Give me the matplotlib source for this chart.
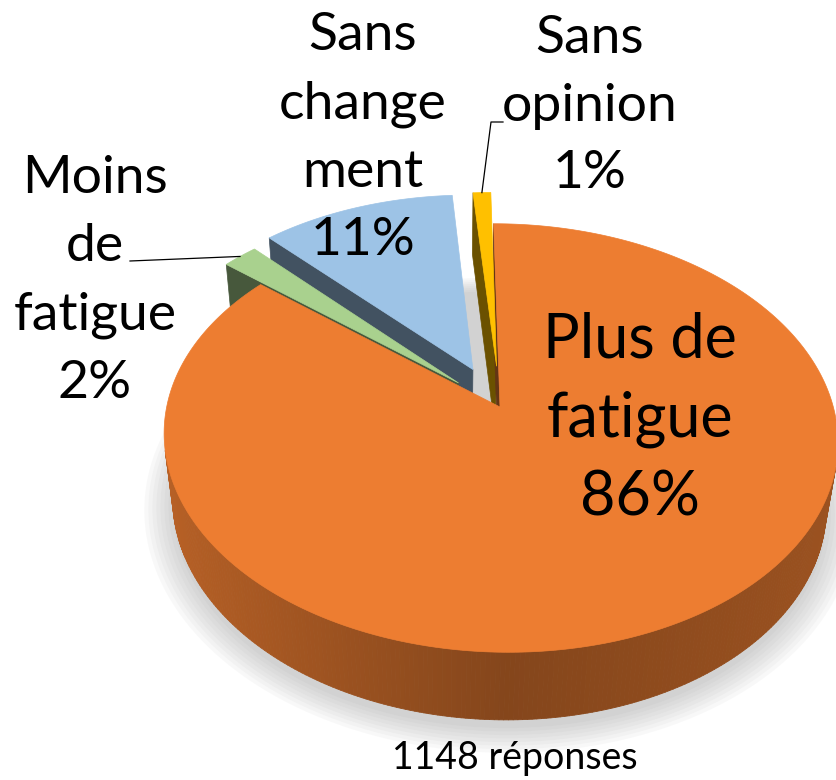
import numpy as np
import matplotlib.pyplot as plt
from matplotlib.patches import Polygon
from matplotlib.collections import PolyCollection
import matplotlib.colors as mcolors

# data (clockwise from 12 o'clock, as in the reference)
labels = ["Plus de\nfatigue", "Moins\nde\nfatigue", "Sans\nchange\nment", "Sans\nopinion"]
values = [86, 2, 11, 1]
colors = ["#ED7D31", "#A9D18E", "#9DC3E6", "#FFC000"]
explode = [0.0, 0.17, 0.2, 0.2]
n_answers = 1148

plt.rcParams['font.family'] = ['Lato', 'DejaVu Sans']

W, H = 836, 780

# simple perspective camera for the 3D pie
elev = np.radians(39)
s, c = np.sin(elev), np.cos(elev)
D = 5.37          # camera distance (pie radius = 1)
F = 1790          # focal length in pixels
XC = -0.15        # camera slightly to the left
CX, CY = 500, 407  # screen position of pie centre
DEPTH = 0.26      # pie thickness

cam = np.array([XC, -D * c, D * s])
sx0 = F * (0 - XC) / D


def proj(x, y, z):
    x, y, z = np.asarray(x, float), np.asarray(y, float), np.asarray(z, float)
    depth = (y + D * c) * c - (z - D * s) * s
    up = (y + D * c) * s + (z - D * s) * c
    px = CX + F * (x - XC) / depth - sx0
    py = CY - F * up / depth
    return np.column_stack([px, py])


def shade(col, f):
    r, g, b = mcolors.to_rgb(col)
    return (r * f, g * f, b * f)


fig = plt.figure(figsize=(W / 100, H / 100), dpi=100)
ax = fig.add_axes([0, 0, 1, 1])
ax.set_xlim(0, W)
ax.set_ylim(H, 0)
ax.axis('off')

vals = np.array(values, float)
frac = vals / vals.sum()
starts = 90 - 360 * np.concatenate([[0], np.cumsum(frac)[:-1]])
ends = starts - 360 * frac
mids = np.radians((starts + ends) / 2)

# soft shadow under the pie
tt = np.linspace(0, 2 * np.pi, 200)
for k in range(8):
    r = 1.0 + 0.012 * k
    pts = proj(r * np.cos(tt), r * np.sin(tt) - 0.02, -DEPTH - 0.01)
    ax.add_patch(Polygon(pts, closed=True, fc='#888888', ec='none', alpha=0.05, zorder=1))

radial, sides, tops = [], [], []
for i in range(len(vals)):
    ox, oy = explode[i] * np.cos(mids[i]), explode[i] * np.sin(mids[i])
    a0, a1 = np.radians(ends[i]), np.radians(starts[i])
    n = max(3, int(frac[i] * 500))
    th = np.linspace(a0, a1, n)

    # top face
    top = np.vstack([proj([ox], [oy], [0]), proj(ox + np.cos(th), oy + np.sin(th), np.zeros(n))])
    tops.append((top, colors[i]))

    # cut faces
    for a, sign in ((a1, 1), (a0, -1)):
        nrm = sign * np.array([-np.sin(a), np.cos(a), 0])
        if np.dot(nrm, cam - np.array([ox, oy, 0])) <= 0:
            continue
        ex, ey = ox + np.cos(a), oy + np.sin(a)
        quad = proj([ox, ex, ex, ox], [oy, ey, ey, oy], [0, 0, -DEPTH, -DEPTH])
        radial.append((oy + 0.5 * np.sin(a), quad, shade(colors[i], 0.42)))

    # curved outer wall
    for j in range(n - 1):
        tm = 0.5 * (th[j] + th[j + 1])
        px, py = ox + np.cos(tm), oy + np.sin(tm)
        if np.cos(tm) * (cam[0] - px) + np.sin(tm) * (cam[1] - py) <= 0:
            continue
        xs = ox + np.cos([th[j], th[j + 1], th[j + 1], th[j]])
        ys = oy + np.sin([th[j], th[j + 1], th[j + 1], th[j]])
        quad = proj(xs, ys, [0, 0, -DEPTH, -DEPTH])
        f = 0.56 + 0.22 * max(0, -np.cos(tm)) + 0.1 * max(0, np.cos(tm))
        sides.append((quad, shade(colors[i], f)))

radial.sort(key=lambda r: -r[0])
ax.add_collection(PolyCollection([q for _, q, _ in radial], facecolors=[col for _, _, col in radial],
                                 edgecolors=[col for _, _, col in radial], linewidths=0.5, zorder=2))
ax.add_collection(PolyCollection([q for q, _ in sides], facecolors=[col for _, col in sides],
                                 edgecolors=[col for _, col in sides], linewidths=0.6, zorder=3))
for poly, col in tops:
    ax.add_patch(Polygon(poly, closed=True, fc=col, ec=col, lw=0.5, zorder=4))

# labels
txt = [f"{l}\n{v}%" for l, v in zip(labels, values)]
ax.text(640, 419, txt[0], ha='center', va='center', fontsize=44, linespacing=1.48, zorder=6)
ax.text(95, 281, txt[1], ha='center', va='center', fontsize=38.5, linespacing=1.55, zorder=6)
ax.text(363, 138, txt[2], ha='center', va='center', fontsize=38.5, linespacing=1.55, zorder=6)
ax.text(590, 106, txt[3], ha='center', va='center', fontsize=38.5, linespacing=1.55, zorder=6)
ax.text(515, 758, f"{n_answers} réponses", ha='center', va='center', fontsize=27, zorder=6)

# leader lines to the small slices
def anchor(i):
    ox, oy = explode[i] * np.cos(mids[i]), explode[i] * np.sin(mids[i])
    return proj([ox + np.cos(mids[i])], [oy + np.sin(mids[i])], [0])[0]

g = anchor(1)
ax.plot([130, g[0]], [261, g[1]], color='black', lw=0.9, zorder=5)
y = anchor(3)
ax.plot([503, 491, y[0]], [122, 122, y[1]], color='black', lw=0.9, zorder=5)

fig.savefig("out.png", dpi=100)
